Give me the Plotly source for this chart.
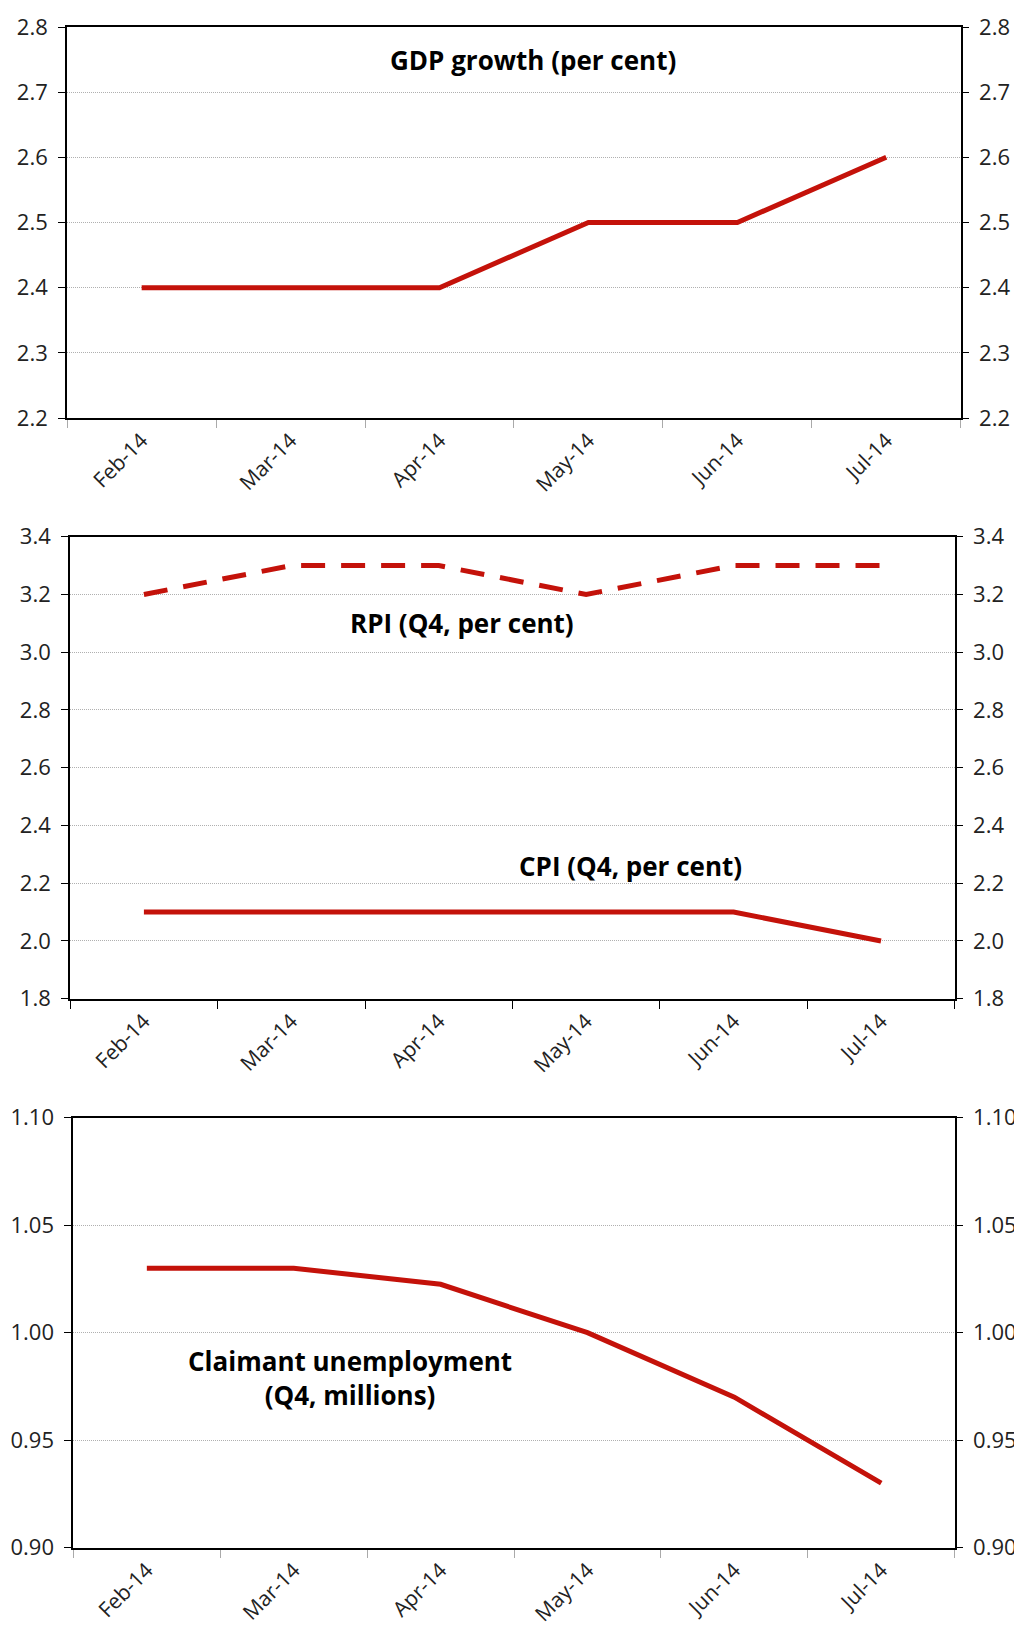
import plotly.graph_objects as go

months = ["Feb-14", "Mar-14", "Apr-14", "May-14", "Jun-14", "Jul-14"]
gdp = [2.4, 2.4, 2.4, 2.5, 2.5, 2.6]
rpi = [3.2, 3.3, 3.3, 3.2, 3.3, 3.3]
cpi = [2.1, 2.1, 2.1, 2.1, 2.1, 2.0]
claimant = [1.03, 1.03, 1.0225, 1.00, 0.97, 0.93]

gdp_ticks = [2.2, 2.3, 2.4, 2.5, 2.6, 2.7, 2.8]
infl_ticks = [1.8, 2.0, 2.2, 2.4, 2.6, 2.8, 3.0, 3.2, 3.4]
cl_ticks = [0.90, 0.95, 1.00, 1.05, 1.10]

W, H = 1022, 1630
RED = "#C4120A"
FONT = "Open Sans"

# panel pixel boxes: left, right, top, bottom
panels = [
    (59.2, 952.7, 19.0, 410.0),
    (62.2, 946.7, 528.7, 990.7),
    (65.4, 946.7, 1109.7, 1539.7),
]

def xdom(l, r):
    return [l / W, r / W]

def ydom(t, b):
    return [1 - b / H, 1 - t / H]

fig = go.Figure()

fig.add_trace(go.Scatter(x=months, y=gdp, mode="lines", line=dict(color=RED, width=5),
                         xaxis="x", yaxis="y", showlegend=False, hoverinfo="skip"))
fig.add_trace(go.Scatter(x=months, y=rpi, mode="lines",
                         line=dict(color=RED, width=5, dash="24px,16px"),
                         xaxis="x2", yaxis="y2", showlegend=False, hoverinfo="skip"))
fig.add_trace(go.Scatter(x=months, y=cpi, mode="lines", line=dict(color=RED, width=5),
                         xaxis="x2", yaxis="y2", showlegend=False, hoverinfo="skip"))
fig.add_trace(go.Scatter(x=months, y=claimant, mode="lines", line=dict(color=RED, width=5),
                         xaxis="x3", yaxis="y3", showlegend=False, hoverinfo="skip"))

# empty traces so that the right-hand axes are drawn
for i in range(3):
    n = "" if i == 0 else str(i + 1)
    fig.add_trace(go.Scatter(x=[None], y=[None], mode="lines", xaxis="x" + n,
                             yaxis="y" + str(i + 4), showlegend=False, hoverinfo="skip"))

tickfont = dict(family=FONT, size=22, color="#222222")
xtickfont = dict(family=FONT, size=21, color="#222222")

ranges = [[2.2, 2.8], [1.8, 3.4], [0.90, 1.10]]
tickvals = [gdp_ticks, infl_ticks, cl_ticks]
fmts = [".1f", ".1f", ".2f"]
xtickcolors = ["#aaaaaa", "#000000", "#aaaaaa"]

layout = dict(width=W, height=H, margin=dict(l=0, r=0, t=0, b=0, autoexpand=False),
              paper_bgcolor="white", plot_bgcolor="white", showlegend=False)

for i, (l, r, t, b) in enumerate(panels):
    n = "" if i == 0 else str(i + 1)
    yn = "y" + n
    xn = "x" + n
    layout["xaxis" + n] = dict(
        domain=xdom(l, r), anchor=yn, type="category",
        categoryorder="array", categoryarray=months,
        range=[-0.5, 5.5], tickson="boundaries", ticks="outside", ticklen=8,
        tickcolor=xtickcolors[i], tickwidth=1,
        showline=True, linecolor="black", linewidth=2, mirror=True,
        showgrid=False, tickangle=-45, tickfont=xtickfont, fixedrange=True,
        automargin=False, ticklabeloverflow="allow",
    )
    layout["yaxis" + n] = dict(
        domain=ydom(t, b), anchor=xn, range=ranges[i], tickvals=tickvals[i],
        tickformat=fmts[i], ticks="outside", ticklen=7, tickcolor="black",
        showline=True, linecolor="black", linewidth=2, mirror=True,
        showgrid=True, gridcolor="#b0b0b0", gridwidth=1, griddash="1px,1px",
        zeroline=False, tickfont=tickfont, fixedrange=True, automargin=False,
        ticklabelstandoff=6, ticklabeloverflow="allow",
    )
    layout["yaxis" + str(i + 4)] = dict(
        overlaying=yn, anchor=xn, side="right", range=ranges[i], tickvals=tickvals[i],
        tickformat=fmts[i], ticks="outside", ticklen=7, tickcolor="black",
        showline=False, showgrid=False, zeroline=False, tickfont=tickfont,
        fixedrange=True, automargin=False, ticklabelstandoff=6,
        ticklabeloverflow="allow",
    )

titlefont = dict(family=FONT, size=26, color="black")
layout["annotations"] = [
    dict(text="<b>GDP growth (per cent)</b>", x=2.63, y=2.75, xref="x", yref="y",
         showarrow=False, font=titlefont, xanchor="center", yanchor="middle"),
    dict(text="<b>RPI (Q4, per cent)</b>", x=2.16, y=3.10, xref="x2", yref="y2",
         showarrow=False, font=titlefont, xanchor="center", yanchor="middle"),
    dict(text="<b>CPI (Q4, per cent)</b>", x=3.30, y=2.26, xref="x2", yref="y2",
         showarrow=False, font=titlefont, xanchor="center", yanchor="middle"),
    dict(text="<b>Claimant unemployment<br>(Q4, millions)</b>", x=1.38, y=0.979,
         xref="x3", yref="y3", showarrow=False, font=titlefont,
         xanchor="center", yanchor="middle"),
]

fig.update_layout(**layout)
fig.write_html("out.html")
